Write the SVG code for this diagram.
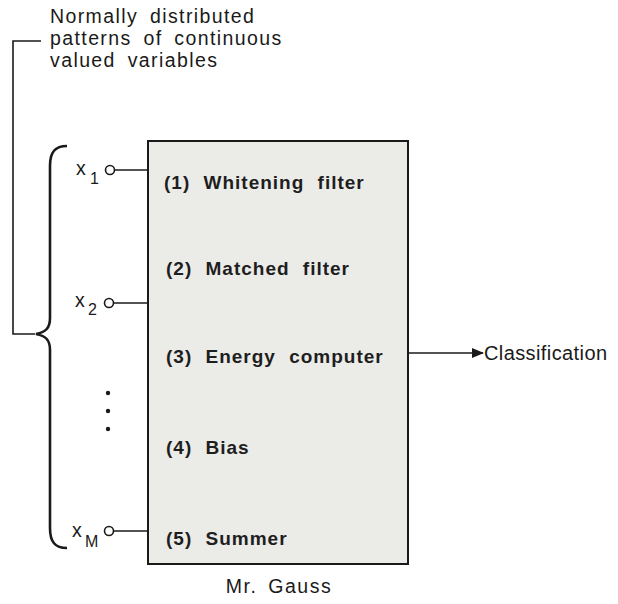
<svg xmlns="http://www.w3.org/2000/svg" width="618" height="604" viewBox="0 0 618 604">
<style>
.t{font-family:"Liberation Sans",Arial,sans-serif;font-size:19.5px;fill:#1a1a1a}
.h{letter-spacing:1.4px;word-spacing:5px}
.b{font-family:"Liberation Sans",Arial,sans-serif;font-size:19px;font-weight:bold;fill:#1e1e1e;letter-spacing:1px;word-spacing:7px}
.s{font-family:"Liberation Sans",Arial,sans-serif;font-size:16px;fill:#1a1a1a}
.ln{stroke:#1a1a1a;stroke-width:1.6;fill:none}
.pin{fill:#fff;stroke:#1a1a1a;stroke-width:1.6}
.dot{fill:#1a1a1a}
</style>
<defs>
<marker id="ah" markerWidth="12" markerHeight="10" refX="11" refY="5" orient="auto" markerUnits="userSpaceOnUse">
<path d="M0,0 L12,5 L0,10 Z" fill="#1a1a1a"/>
</marker>
</defs>
<g id="caption">
<text class="t h" x="50" y="23">Normally distributed</text>
<text class="t h" x="50" y="45">patterns of continuous</text>
<text class="t h" x="50" y="67">valued variables</text>
</g>
<g id="bracket">
<path class="ln" d="M41,41 H13 V334 H35"/>
<path d="M67,146 C55,146 50,152 50,166 V318 C50,328 46,332 36,334 C46,336 50,340 50,350 V528 C50,542 55,548 67,548" fill="none" stroke="#1a1a1a" stroke-width="2.6"/>
</g>
<g id="x1">
<text class="t" x="76" y="175">x</text><text class="s" x="90" y="184">1</text>
<circle class="pin" cx="110" cy="170" r="4.5"/>
</g>
<g id="x2">
<text class="t" x="75" y="307">x</text><text class="s" x="88" y="315">2</text>
<circle class="pin" cx="109" cy="303" r="4.5"/>
</g>
<g id="dots">
<circle class="dot" cx="108" cy="393" r="2.2"/>
<circle class="dot" cx="108" cy="411" r="2.2"/>
<circle class="dot" cx="108" cy="429" r="2.2"/>
</g>
<g id="xM">
<text class="t" x="72" y="537">x</text><text class="s" x="85" y="547">M</text>
<circle class="pin" cx="109" cy="531" r="4.5"/>
</g>
<g id="gauss">
<rect x="148" y="141" width="260" height="423" fill="#ebebe8" stroke="#1a1a1a" stroke-width="2"/>
<text class="b" x="164" y="189">(1) Whitening filter</text>
<text class="b" x="166" y="275">(2) Matched filter</text>
<text class="b" x="166" y="363">(3) Energy computer</text>
<text class="b" x="166" y="454">(4) Bias</text>
<text class="b" x="166" y="545">(5) Summer</text>
<text class="t" x="279" y="593" text-anchor="middle" style="letter-spacing:1.5px;word-spacing:4px">Mr. Gauss</text>
</g>
<g id="connectors">
<path class="ln" d="M114.5,170 H148"/>
<path class="ln" d="M113.5,303 H148"/>
<path class="ln" d="M113.5,531 H148"/>
<path class="ln" d="M408,353 H483" marker-end="url(#ah)"/>
</g>
<g id="output">
<text class="t" x="484" y="360" style="font-size:20px;letter-spacing:0.4px">Classification</text>
</g>
</svg>
